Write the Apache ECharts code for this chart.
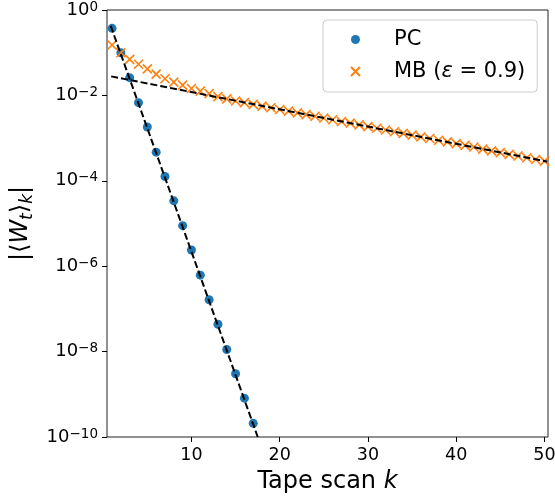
<!DOCTYPE html>
<html><head><meta charset="utf-8">
<script src="https://cdn.jsdelivr.net/npm/echarts@6/dist/echarts.min.js"></script>
<style>html,body{margin:0;padding:0;background:#fff}#c{width:555px;height:504px}</style>
</head><body><div id="c"></div>
<script>
// Data
const pcK = [1,2,3,4,5,6,7,8,9,10,11,12,13,14,15,16,17];
const pcValues = [0.372,0.100,0.0260,6.76e-3,1.82e-3,4.68e-4,1.26e-4,3.39e-5,8.91e-6,2.40e-6,6.17e-7,1.64e-7,4.37e-8,1.12e-8,3.02e-9,8.13e-10,2.09e-10];
const mbK = [1,2,3,4,5,6,7,8,9,10,11,12,13,14,15,16,17,18,19,20,21,22,23,24,25,26,27,28,29,30,31,32,33,34,35,36,37,38,39,40,41,42,43,44,45,46,47,48,49,50];
const mbValues = [0.151,0.100,0.0700,0.0537,0.0417,0.0316,0.0245,0.0204,0.0174,0.0145,
  0.0126,0.0110,9.33e-3,8.32e-3,7.41e-3,6.76e-3,6.17e-3,5.62e-3,5.13e-3,4.68e-3,
  4.27e-3,3.89e-3,3.55e-3,3.24e-3,2.95e-3,2.69e-3,2.45e-3,2.24e-3,2.04e-3,1.86e-3,
  1.70e-3,1.55e-3,1.41e-3,1.29e-3,1.17e-3,1.07e-3,9.77e-4,8.91e-4,8.13e-4,7.41e-4,
  6.76e-4,6.17e-4,5.50e-4,5.01e-4,4.57e-4,4.17e-4,3.80e-4,3.47e-4,3.16e-4,2.88e-4];
const pcFitK = [0.85, 17.51];
const pcFitValues = [0.425, 1e-10];
const mbFitK = [0.9, 50.3];
const mbFitValues = [0.0279, 2.82e-4];
const xTicks = [10,20,30,40,50];
const seriesNames = ['PC', 'MB'];

const FONT = 'DejaVu Sans';
const xPath = 'path://M0,0L10,10M10,0L0,10';
const zip = (a, b) => a.map((v, i) => [v, b[i]]);

const chart = echarts.init(document.getElementById('c'), null, {renderer: 'canvas'});
chart.setOption({
  backgroundColor: '#fff',
  animation: false,
  textStyle: {fontFamily: FONT},
  grid: {left: 107, top: 10, width: 441, height: 427, show: true, borderColor: '#222', borderWidth: 1, outerBoundsMode: 'none'},
  legend: {
    left: 323, top: 20, orient: 'vertical',
    data: [{name: 'PC', icon: 'circle'}, {name: 'MB', icon: xPath}],
    itemWidth: 9, itemHeight: 9, itemGap: 11,
    padding: [9, 12, 10, 27],
    backgroundColor: 'rgba(255,255,255,0.8)', borderColor: '#cccccc', borderWidth: 1, borderRadius: 4,
    textStyle: {fontFamily: FONT, fontSize: 21, color: '#000', padding: [0, 0, 0, 29],
      rich: {i: {fontFamily: FONT, fontSize: 21, fontStyle: 'italic'}}},
    formatter: n => n === 'MB' ? 'MB ({i|ε} = 0.9)' : n
  },
  xAxis: {
    type: 'value', min: 0.43, max: 50.4,
    axisLine: {show: false},
    splitLine: {show: false},
    axisTick: {show: true, length: 5, lineStyle: {color: '#000'}, customValues: xTicks},
    axisLabel: {fontFamily: FONT, fontSize: 17.5, color: '#000', margin: 9, customValues: xTicks},
    name: 'Tape scan {i|k}', nameLocation: 'middle', nameGap: 33,
    nameTextStyle: {fontFamily: FONT, fontSize: 24, color: '#000', rich: {i: {fontFamily: FONT, fontSize: 24, fontStyle: 'italic'}}}
  },
  yAxis: {
    type: 'log', logBase: 10, min: 1e-10, max: 1, interval: 2,
    axisLine: {show: false},
    splitLine: {show: false},
    minorTick: {show: false},
    axisTick: {show: true, length: 5, lineStyle: {color: '#000'}},
    axisLabel: {
      margin: 9, color: '#000',
      formatter: v => '{m|10}{s|' + String(Math.round(Math.log10(v))).replace('-', '\u2212') + '}',
      rich: {
        m: {fontFamily: FONT, fontSize: 18, lineHeight: 20, verticalAlign: 'middle'},
        s: {fontFamily: FONT, fontSize: 13.5, lineHeight: 12, verticalAlign: 'top'}
      }
    },
    name: '|⟨{i|W}{sub|t}⟩{sub|k}|', nameLocation: 'middle', nameGap: 70,
    nameTextStyle: {fontFamily: FONT, fontSize: 24, color: '#000', lineHeight: 30,
      rich: {
        i: {fontFamily: FONT, fontSize: 24, fontStyle: 'italic', lineHeight: 30},
        sub: {fontFamily: FONT, fontSize: 17, fontStyle: 'italic', verticalAlign: 'bottom', padding: [12, 0, 0, 0]}
      }}
  },
  series: [
    {name: 'PC', type: 'scatter', data: zip(pcK, pcValues), symbol: 'circle', symbolSize: 9,
     itemStyle: {color: '#1f77b4', opacity: 1}, z: 2},
    {name: 'MB', type: 'scatter', data: zip(mbK, mbValues), symbol: xPath, symbolSize: 9,
     itemStyle: {color: 'rgba(0,0,0,0)', borderColor: '#ff7f0e', borderWidth: 1.6, opacity: 1}, z: 3},
    {name: 'PC fit', type: 'line', data: zip(pcFitK, pcFitValues), symbol: 'none', clip: true,
     lineStyle: {color: '#000', width: 2, type: [7, 3]}, z: 4},
    {name: 'MB fit', type: 'line', data: zip(mbFitK, mbFitValues), symbol: 'none', clip: true,
     lineStyle: {color: '#000', width: 2, type: [7, 3]}, z: 4}
  ]
});
</script></body></html>
